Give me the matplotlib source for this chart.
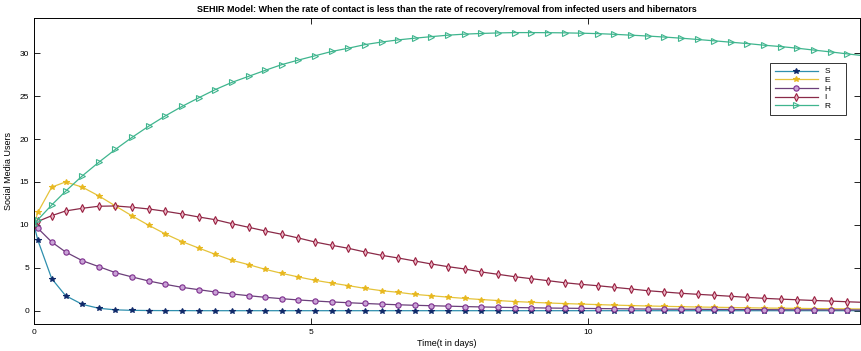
import matplotlib
matplotlib.use("Agg")
import matplotlib.pyplot as plt

# time points (days)
t = [0, 0.07, 0.32, 0.57, 0.87, 1.17, 1.47, 1.77, 2.07, 2.37, 2.67, 2.97, 3.27,
     3.57, 3.87, 4.17, 4.47, 4.77, 5.07, 5.37, 5.67, 5.97, 6.27, 6.57, 6.87,
     7.17, 7.47, 7.77, 8.07, 8.37, 8.67, 8.97, 9.27, 9.57, 9.87, 10.17, 10.47,
     10.77, 11.07, 11.37, 11.67, 11.97, 12.27, 12.57, 12.87, 13.17, 13.47,
     13.77, 14.07, 14.37, 14.67, 14.97]

S = [10, 8.2, 3.73, 1.75, 0.74, 0.28, 0.1, 0.04, 0.02, 0.01, 0.01, 0, 0,
     0, 0, 0, 0, 0, 0, 0, 0, 0, 0, 0, 0,
     0, 0, 0, 0, 0, 0, 0, 0, 0, 0, 0, 0,
     0, 0, 0, 0, 0, 0, 0, 0, 0, 0,
     0, 0, 0, 0, 0]

E = [10, 11.47, 14.4, 15.0, 14.4, 13.37, 12.2, 11.04, 9.95, 8.94, 8.05, 7.3, 6.57,
     5.87, 5.37, 4.82, 4.35, 3.93, 3.54, 3.22, 2.92, 2.6, 2.33, 2.14, 1.9,
     1.74, 1.58, 1.43, 1.3, 1.18, 1.07, 0.98, 0.9, 0.83, 0.77, 0.71, 0.65,
     0.6, 0.55, 0.51, 0.47, 0.43, 0.4, 0.37, 0.34, 0.31, 0.29,
     0.27, 0.25, 0.23, 0.21, 0.2]

H = [10, 9.6, 8.0, 6.84, 5.83, 5.13, 4.43, 3.93, 3.46, 3.07, 2.72, 2.45, 2.18,
     1.95, 1.75, 1.56, 1.4, 1.25, 1.13, 1.02, 0.93, 0.84, 0.76, 0.69, 0.63,
     0.58, 0.53, 0.48, 0.44, 0.4, 0.37, 0.34, 0.31, 0.29, 0.27, 0.25, 0.23,
     0.21, 0.19, 0.18, 0.17, 0.16, 0.15, 0.14, 0.13, 0.12, 0.11,
     0.1, 0.1, 0.09, 0.09, 0.08]

I = [10, 10.4, 11.07, 11.62, 11.93, 12.17, 12.2, 12.05, 11.85, 11.58, 11.27, 10.92, 10.6,
     10.14, 9.72, 9.29, 8.9, 8.47, 8.0, 7.62, 7.27, 6.84, 6.45, 6.14, 5.79,
     5.44, 5.13, 4.86, 4.51, 4.24, 3.96, 3.73, 3.5, 3.26, 3.07, 2.91, 2.72,
     2.53, 2.33, 2.18, 2.03, 1.91, 1.8, 1.68, 1.55, 1.44, 1.35,
     1.27, 1.19, 1.12, 1.04, 0.97]

R = [10, 10.6, 12.32, 13.92, 15.7, 17.3, 18.8, 20.2, 21.5, 22.7, 23.8, 24.8, 25.76,
     26.6, 27.3, 28.0, 28.67, 29.2, 29.7, 30.2, 30.58, 31.0, 31.3, 31.55, 31.75,
     31.93, 32.1, 32.22, 32.3, 32.36, 32.4, 32.4, 32.39, 32.37, 32.33, 32.28, 32.2,
     32.1, 32.0, 31.88, 31.75, 31.6, 31.44, 31.28, 31.12, 30.93, 30.77,
     30.58, 30.36, 30.15, 29.92, 29.7]

labels = ["S", "E", "H", "I", "R"]
series = [S, E, H, I, R]
line_colors = ["#2f8fae", "#e5c33a", "#6b3f7a", "#8a2a48", "#3fb58e"]
marker_edge = ["#102a6a", "#e8b820", "#7e2f8e", "#9a2040", "#3fb58e"]
marker_face = ["#102a6a", "#e8b820", "#c9a3d6", "#e8b8c8", "none"]
markers = ["*", "*", "o", "d", ">"]

plt.rcParams["font.family"] = ["Liberation Sans", "DejaVu Sans"]

fig = plt.figure(figsize=(8.61, 3.51), dpi=100)
ax = fig.add_axes([34 / 861, 1 - 324 / 351, 826 / 861, (324 - 18) / 351])

for y, lab, lc, me, mf, m in zip(series, labels, line_colors, marker_edge, marker_face, markers):
    ax.plot(t, y, color=lc, linewidth=0.9, marker=m, markersize=3.8,
            markeredgecolor=me, markerfacecolor=mf, markeredgewidth=0.8, label=lab)

ax.set_xlim(0, 14.9)
ax.set_ylim(-1.55, 34.1)
ax.set_xticks([0, 5, 10])
ax.set_yticks([0, 5, 10, 15, 20, 25, 30])
ax.tick_params(direction="in", top=True, right=True, labelsize=6, length=4, width=0.6)
for sp in ax.spines.values():
    sp.set_linewidth(0.7)

ax.set_title("SEHIR Model: When the rate of contact is less than the rate of recovery/removal from infected users and hibernators",
             fontsize=6.5, fontweight="bold", pad=4)
ax.set_xlabel("Time(t in days)", fontsize=6.5, labelpad=2)
ax.set_ylabel("Social Media Users", fontsize=6.5, labelpad=5)

leg = ax.legend(loc="upper left", bbox_to_anchor=((770 - 34) / 826, (324 - 63) / 306),
                fontsize=6, frameon=True, fancybox=False, edgecolor="black",
                handlelength=5.2, handletextpad=0.9, labelspacing=0.1, borderpad=0.55,
                borderaxespad=0)
leg.get_frame().set_linewidth(0.7)
# widen the box on the right like the reference
for txt in leg.get_texts():
    txt.set_text(txt.get_text() + "    ")

fig.savefig("out.png", dpi=100)
